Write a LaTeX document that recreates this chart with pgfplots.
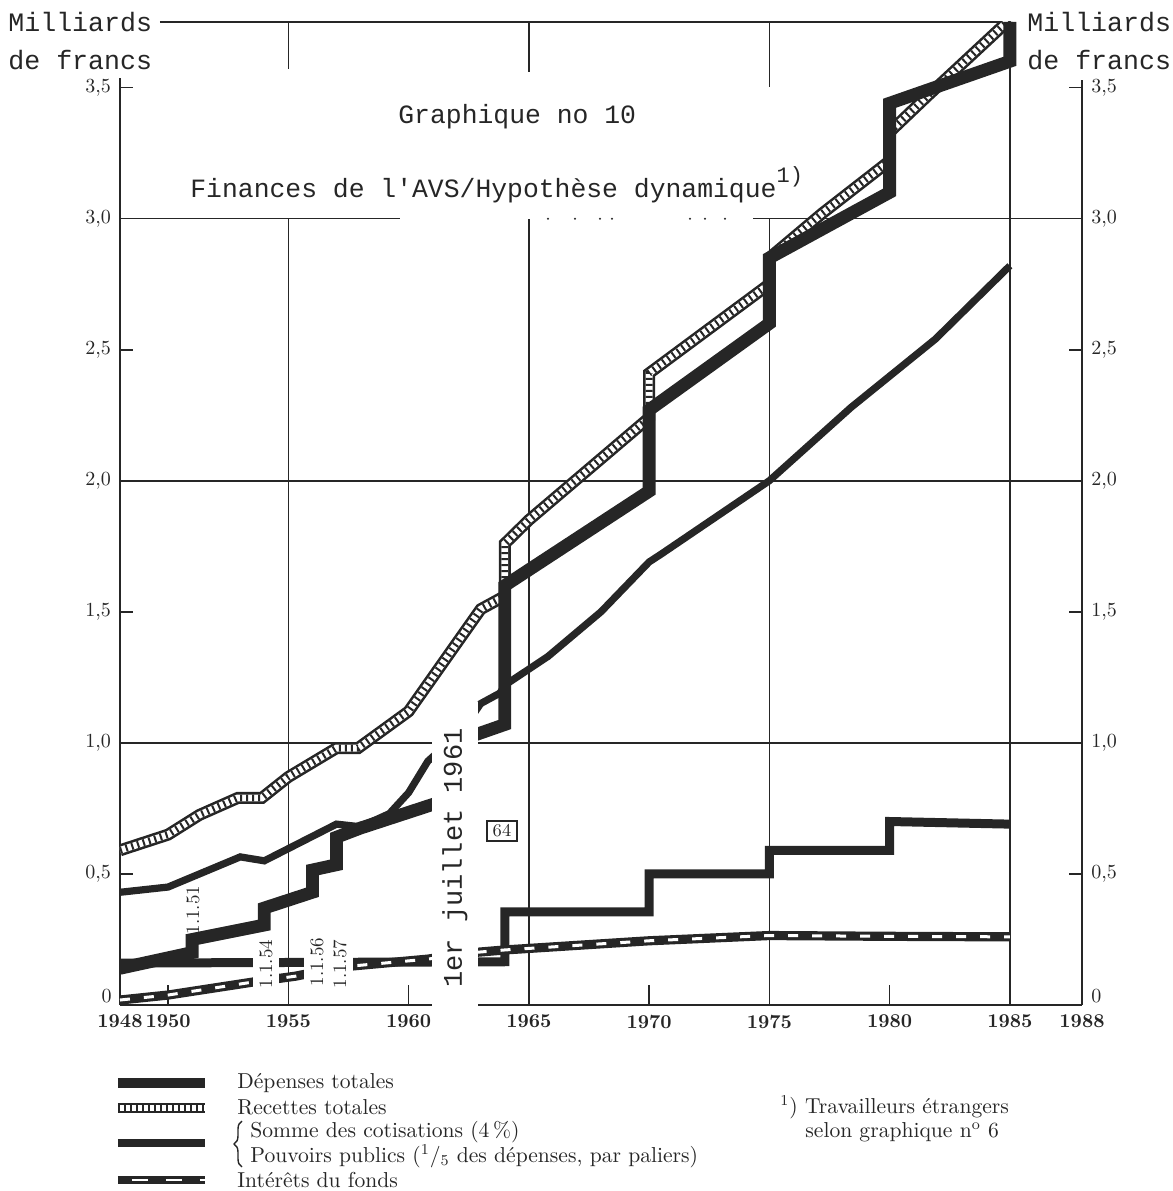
\documentclass[border=0pt]{standalone}
\usepackage{fontspec}
\usepackage{pgfplots}
\usepackage{pgfplotstable}
\pgfplotsset{compat=1.18}
\usetikzlibrary{decorations.pathreplacing}
\newfontfamily\tw{Liberation Mono}
\definecolor{ink}{HTML}{262626}

% Depenses totales
\pgfplotstableread{
x y
1948 0.14
1951 0.20
1951 0.25
1954 0.305
1954 0.37
1956 0.43
1956 0.515
1957 0.535
1957 0.64
1958 0.675
1961.5 0.78
1961.5 0.99
1964 1.07
1964 1.60
1970 1.96
1970 2.27
1975 2.60
1975 2.85
1980 3.10
1980 3.44
1985 3.60
1985 3.75
}\dep

% Recettes totales
\pgfplotstableread{
x y
1948 0.59
1950 0.65
1951.3 0.725
1952.9 0.79
1953.9 0.79
1955 0.87
1957 0.98
1957.9 0.98
1960 1.12
1963 1.51
1964 1.56
1964 1.76
1965 1.85
1970 2.24
1970 2.41
1975 2.75
1975 2.85
1977.2 3.02
1980 3.22
1980 3.33
1981.6 3.47
1985 3.76
}\rec

% Somme des cotisations
\pgfplotstableread{
x y
1948 0.43
1950 0.45
1953 0.565
1954 0.55
1957 0.69
1958 0.68
1959.2 0.73
1960 0.81
1960.8 0.93
1962.25 1.05
1963 1.15
1963.8 1.19
1964 1.22
1965.8 1.33
1968 1.50
1970 1.69
1970.5 1.72
1975 2.00
1978.4 2.28
1981.9 2.54
1985 2.82
}\cot

% Pouvoirs publics
\pgfplotstableread{
x y
1948 0.16
1964 0.165
1964 0.355
1970 0.355
1970 0.50
1975 0.50
1975 0.59
1980 0.59
1980 0.70
1985 0.69
}\pp

% Interets du fonds
\pgfplotstableread{
x y
1948 0.019
1950 0.038
1953.7 0.09
1955.3 0.11
1957.2 0.145
1960.8 0.175
1962.7 0.20
1964 0.21
1970 0.245
1975 0.265
1980 0.262
1985 0.26
}\intr

\tikzset{pxs/.style={x=0.5pt,y=-0.5pt,shift={(-60pt,502.5pt)}}}

\begin{document}
\begin{tikzpicture}
% ---------- frame and grid (pixel coordinates of the reference) ----------
\begin{scope}[pxs, draw=ink, line width=0.8pt, line cap=butt]
  \draw (120,1005)--(1082,1005);
  \draw (120,1005)--(120,78);
  \draw (1082,1005)--(1082,80);
  \draw (160,22.1)--(1009.85,22.1);
  \draw (1009.85,1005)--(1009.85,22.1);
  \draw (288.35,1005)--(288.35,218.7) (288.35,22.1)--(288.35,69);
  \draw (528.85,1005)--(528.85,218.7) (528.85,22.1)--(528.85,72);
  \draw (769.35,1005)--(769.35,218.7) (769.35,22.1)--(769.35,87);
  \draw (120,742.9)--(1082,742.9);
  \draw (120,480.8)--(1082,480.8);
  \draw (120,218.7)--(400,218.7) (753,218.7)--(1082,218.7);
  \foreach \d in {548,575,600,612,690,705,725}{\fill[ink] (\d,218.7) circle (1.1);}
  \foreach \t in {168.1,408.6,649.1,889.6}{\draw (\t,1005)--(\t,985);}
  \foreach \v in {873.95,611.85,349.75,87.65}{\draw (120,\v)--(133,\v); \draw (1082,\v)--(1069,\v);}
\end{scope}

\begin{axis}[
  at={(0,0)}, anchor=south west,
  scale only axis, width=481pt, height=491.5pt,
  xmin=1948, xmax=1988, ymin=0, ymax=3.75,
  axis line style={draw=none},
  tick style={draw=none}, major tick length=0pt,
  no markers,
  xtick={1948,1950,1955,1960,1965,1970,1975,1980,1985,1988},
  xticklabels={1948,1950,1955,1960,1965,1970,1975,1980,1985,1988},
  x tick label style={font=\bfseries\fontsize{9.8}{10}\selectfont, text=ink, yshift=-1.5pt},
  ytick={0.5,1,1.5,2,2.5,3,3.5},
  yticklabels={{0,5},{1,0},{1,5},{2,0},{2,5},{3,0},{3,5}},
  y tick label style={font=\fontsize{10}{10}\selectfont, text=ink, xshift=-1pt},
  clip=true,
]
  % Recettes totales (hatched)
  \addplot[ink, line width=6pt] table {\rec};
  \addplot[white, line width=3.4pt] table {\rec};
  \addplot[ink, line width=3.4pt, dash pattern=on 1pt off 2pt] table {\rec};
  % Depenses totales
  \addplot[ink, line width=6.4pt] table {\dep};
  % Somme des cotisations
  \addplot[ink, line width=3.6pt] table {\cot};
  % Pouvoirs publics
  \addplot[ink, line width=4.5pt] table {\pp};
  % Interets du fonds
  \addplot[ink, line width=4.6pt] table {\intr};
  \addplot[white, line width=1.5pt, dash pattern=on 5pt off 7pt] table {\intr};
\end{axis}

% ---------- annotations ----------
\begin{scope}[pxs]
  % zero labels, set just above the base line
  \node[anchor=east, font=\fontsize{10}{10}\selectfont, text=ink, inner sep=0pt] at (112,996) {0};
  % right y tick labels
  \foreach \v/\l in {996/0,873.95/{0,5},742.9/{1,0},611.85/{1,5},480.8/{2,0},349.75/{2,5},218.7/{3,0},87.65/{3,5}}
    {\node[anchor=west, font=\fontsize{10}{10}\selectfont, text=ink, inner sep=0pt] at (1091,\v) {\l};}
  % units
  \node[anchor=west, font=\tw\fontsize{13.3}{14}\selectfont, text=ink, inner sep=0pt] at (8,22) {Milliards};
  \node[anchor=west, font=\tw\fontsize{13.3}{14}\selectfont, text=ink, inner sep=0pt] at (8,60) {de francs};
  \node[anchor=west, font=\tw\fontsize{13.3}{14}\selectfont, text=ink, inner sep=0pt] at (1027,22) {Milliards};
  \node[anchor=west, font=\tw\fontsize{13.3}{14}\selectfont, text=ink, inner sep=0pt] at (1027,60) {de francs};
  % title
  \node[anchor=west, font=\tw\fontsize{13.2}{14}\selectfont, text=ink, inner sep=0pt] at (398,117) {Graphique no 10};
  \node[anchor=west, font=\tw\fontsize{13.2}{14}\selectfont, text=ink, inner sep=0pt] at (190,185)
     {Finances de l'AVS/Hypothèse dynamique\raisebox{0.55em}{\fontsize{11}{11}\selectfont 1)}};
  % date labels
  \node[rotate=90, font=\fontsize{9.5}{10}\selectfont, text=ink, inner sep=0.5pt] at (193,910) {1.1.51};
  \node[rotate=90, font=\fontsize{9.5}{10}\selectfont, text=ink, fill=white, inner xsep=1pt, inner ysep=3pt] at (266,964) {1.1.54};
  \node[rotate=90, font=\fontsize{9.5}{10}\selectfont, text=ink, fill=white, inner xsep=1pt, inner ysep=3pt] at (317,962) {1.1.56};
  \node[rotate=90, font=\fontsize{9.5}{10}\selectfont, text=ink, fill=white, inner xsep=1pt, inner ysep=3pt] at (340,964) {1.1.57};
  \node[rotate=90, font=\tw\fontsize{13.5}{14}\selectfont, text=ink, fill=white, minimum width=156pt, minimum height=23pt, inner sep=0pt] at (455,858) {1er juillet 1961};
  \node[draw=ink, line width=0.8pt, font=\fontsize{9}{9}\selectfont, text=ink, minimum width=15pt, minimum height=10pt, inner sep=1pt] at (502,831) {64};
  % legend
  \draw[ink, line width=5pt] (118,1083)--(205,1083);
  \draw[ink, line width=5pt] (118,1108)--(205,1108);
  \draw[white, line width=2.6pt] (118,1108)--(205,1108);
  \draw[ink, line width=2.6pt, dash pattern=on 1pt off 2pt] (118,1108)--(205,1108);
  \draw[ink, line width=3.6pt] (118,1143)--(205,1143);
  \draw[ink, line width=4.4pt] (118,1180)--(205,1180);
  \draw[white, line width=1.4pt, dash pattern=on 8pt off 9pt, dash phase=-7pt] (118,1180)--(205,1180);
  \draw[ink, line width=0.7pt, decorate, decoration={brace, amplitude=4pt}] (242,1167)--(242,1121);
  \begin{scope}[every node/.style={anchor=west, font=\fontsize{10.8}{12}\selectfont, text=ink, inner sep=0pt}]
    \node at (237,1083) {Dépenses totales};
    \node at (237,1107) {Recettes totales};
    \node at (250,1132) {Somme des cotisations (4\,\%)};
    \node at (250,1156) {Pouvoirs publics (\textsuperscript{1}/\textsubscript{5} des dépenses, par paliers)};
    \node at (237,1180) {Intérêts du fonds};
    \node at (780,1107) {\textsuperscript{1}) Travailleurs étrangers};
    \node at (805,1132) {selon graphique n\textsuperscript{o}~6};
  \end{scope}
\end{scope}

\pgfresetboundingbox
\path[pxs] (0,0) rectangle (1173,1191);
\end{tikzpicture}
\end{document}
